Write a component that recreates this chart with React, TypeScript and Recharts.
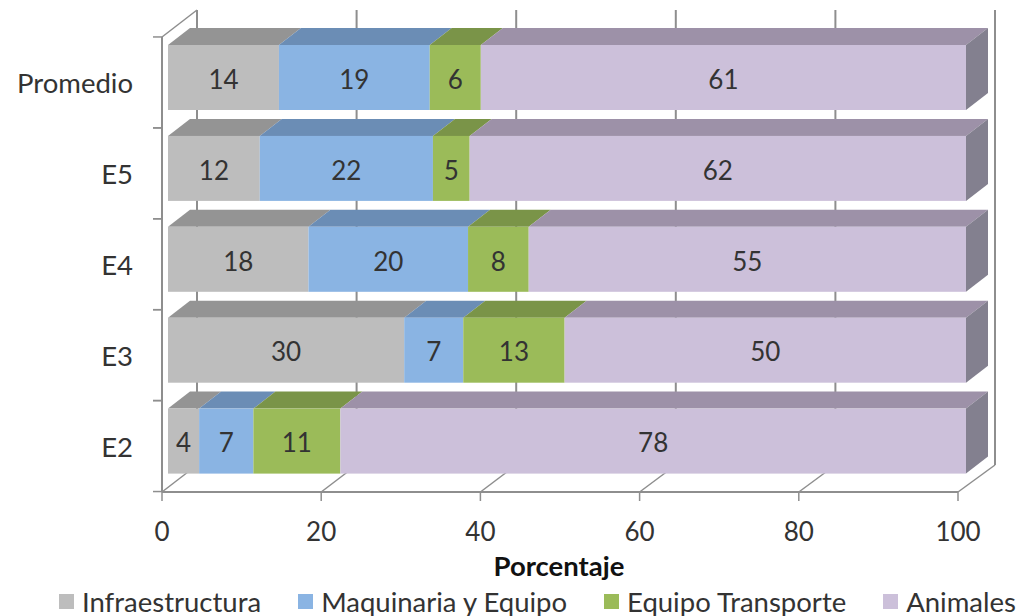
import React from 'react';
import {
  BarChart,
  Bar,
  XAxis,
  YAxis,
  CartesianGrid,
  Legend,
  LabelList,
} from 'recharts';

const categories = ['Promedio', 'E5', 'E4', 'E3', 'E2'];
const infraestructura = [13.9, 11.5, 17.6, 29.6, 3.9];
const maquinaria = [18.9, 21.7, 20, 7.4, 6.8];
const transporte = [6.4, 4.6, 7.6, 12.7, 10.9];
const animales = [60.8, 62.2, 54.8, 50.3, 78.4];
const xTicks = [0, 20, 40, 60, 80, 100];

const data = categories.map((name, i) => ({
  name,
  Infraestructura: infraestructura[i],
  'Maquinaria y Equipo': maquinaria[i],
  'Equipo Transporte': transporte[i],
  Animales: animales[i],
}));

const FONT = 'Lato, "Open Sans", sans-serif';
const AXIS = '#8e8e8e';
const TEXT = '#333333';
const DX = 22;
const DY = 17;

// the axis plane sits a little left of and below the bars, the wall a little right and above
const frontX = (x: number) => x - 6 - (2 * (x - 168)) / 798;
const backX = (x: number) => x + 29;
const AXIS_Y = 492;
const WALL_BOTTOM = 465;
const WALL_TOP = 10;

function box(top: string, withSide = false) {
  return (p: any) => {
    const { x, y, width, height, fill } = p;
    return (
      <g>
        <polygon points={`${x},${y} ${x + DX},${y - DY} ${x + width + DX},${y - DY} ${x + width},${y}`} fill={top} />
        {withSide && (
          <polygon
            points={`${x + width},${y} ${x + width + DX},${y - DY} ${x + width + DX},${y + height - DY} ${x + width},${y + height}`}
            fill="#83808f"
          />
        )}
        <rect x={x} y={y} width={width} height={height} fill={fill} />
      </g>
    );
  };
}

// wall lines and floor lines, plus the outer frame on the first tick
function wallLine(p: any) {
  const x = p.x1;
  const fx = frontX(x);
  const bx = backX(x);
  const first = Math.abs(x - 168) < 1;
  return (
    <g key={p.key} stroke={AXIS} strokeWidth={2} fill="none">
      <line x1={bx} y1={WALL_TOP} x2={bx} y2={WALL_BOTTOM} />
      <line x1={fx} y1={AXIS_Y} x2={bx} y2={WALL_BOTTOM} strokeWidth={1.5} />
      <line x1={fx} y1={AXIS_Y} x2={fx} y2={AXIS_Y + 9} strokeWidth={1.5} />
      {first && (
        <>
          <line x1={fx} y1={37} x2={fx} y2={AXIS_Y} />
          <line x1={fx} y1={37} x2={bx} y2={WALL_TOP} strokeWidth={1.5} />
          <line x1={fx} y1={AXIS_Y} x2={frontX(966)} y2={AXIS_Y} />
        </>
      )}
    </g>
  );
}

function XTick({ x, y, payload }: any) {
  return (
    <text x={frontX(x)} y={y} textAnchor="middle" fontFamily={FONT} fontSize={26} fill={TEXT} dy={46}>
      {payload.value}
    </text>
  );
}

function YTick({ y, payload }: any) {
  return (
    <g>
      <line x1={153} y1={y - 40.5} x2={162} y2={y - 40.5} stroke={AXIS} strokeWidth={1.5} />
      <line x1={153} y1={y + 50.5} x2={162} y2={y + 50.5} stroke={AXIS} strokeWidth={1.5} />
      <text x={133} y={y + 16} textAnchor="end" fontFamily={FONT} fontSize={27.5} fill={TEXT}>
        {payload.value}
      </text>
    </g>
  );
}

function LegendRow({ payload }: any) {
  return (
    <div style={{ display: 'flex', gap: 37, paddingLeft: 59, height: 30, alignItems: 'center', fontFamily: FONT, fontSize: 27.5, color: TEXT, whiteSpace: 'nowrap' }}>
      {(payload || []).map((entry: any) => (
        <div key={entry.value} style={{ display: 'flex', alignItems: 'center', gap: 8 }}>
          <span style={{ width: 15, height: 15, background: entry.color, display: 'inline-block' }} />
          <span>{entry.value}</span>
        </div>
      ))}
    </div>
  );
}

const roundLabel = (v: any) => Math.round(Number(v));

const labelProps = {
  position: 'center' as const,
  formatter: roundLabel,
  fontFamily: FONT,
  fontSize: 26,
  fill: TEXT,
  dy: 2,
};

export default function App() {
  return (
    <div style={{ position: 'absolute', left: 0, top: 0, width: 1029, height: 616, background: '#fff' }}>
      <BarChart
        width={1029}
        height={616}
        data={data}
        layout="vertical"
        barSize={65}
        margin={{ top: 32, right: 63, left: 0, bottom: 39.5 }}
      >
        <CartesianGrid horizontal={false} vertical={wallLine as any} />
        <XAxis
          type="number"
          domain={[0, 100]}
          ticks={xTicks}
          interval={0}
          axisLine={false}
          tickLine={false}
          height={60}
          tick={<XTick />}
          label={{
            value: 'Porcentaje',
            position: 'insideBottom',
            offset: -29,
            dx: -8,
            fontFamily: FONT,
            fontSize: 27.5,
            fontWeight: 700,
            fill: '#111',
          }}
        />
        <YAxis type="category" dataKey="name" width={168} axisLine={false} tickLine={false} tick={<YTick />} interval={0} />
        <Legend
          verticalAlign="bottom"
          height={30}
          itemSorter={null}
          wrapperStyle={{ left: 0, bottom: 0, width: 1029 }}
          content={<LegendRow />}
        />
        <Bar dataKey="Infraestructura" stackId="a" fill="#bdbdbd" shape={box('#949494')} isAnimationActive={false}>
          <LabelList dataKey="Infraestructura" {...labelProps} />
        </Bar>
        <Bar dataKey="Maquinaria y Equipo" stackId="a" fill="#8ab4e3" shape={box('#6b8db5')} isAnimationActive={false}>
          <LabelList dataKey="Maquinaria y Equipo" {...labelProps} />
        </Bar>
        <Bar dataKey="Equipo Transporte" stackId="a" fill="#9bbb59" shape={box('#7a9448')} isAnimationActive={false}>
          <LabelList dataKey="Equipo Transporte" {...labelProps} />
        </Bar>
        <Bar dataKey="Animales" stackId="a" fill="#ccc0da" shape={box('#9d91a8', true)} isAnimationActive={false}>
          <LabelList dataKey="Animales" {...labelProps} />
        </Bar>
      </BarChart>
    </div>
  );
}
